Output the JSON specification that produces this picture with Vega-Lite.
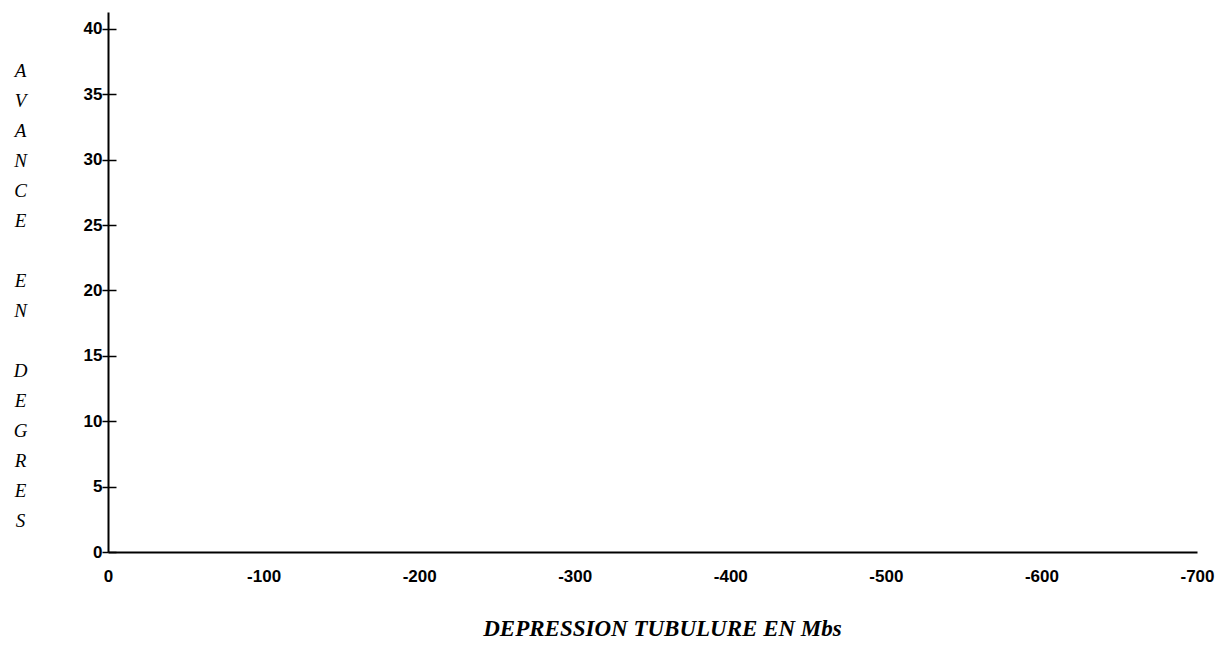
{
  "$schema": "https://vega.github.io/schema/vega-lite/v6.json",
  "width": 1089,
  "height": 540,
  "autosize": {"type": "none"},
  "padding": {"left": 108, "top": 12, "right": 23, "bottom": 93},
  "background": "white",
  "config": {"view": {"stroke": null}},
  "data": {"values": [
    {"depression": 0, "avance": 0},
    {"depression": -700, "avance": 0}
  ]},
  "resolve": {"axis": {"y": "independent"}},
  "layer": [
    {
      "mark": {"type": "point", "opacity": 0},
      "encoding": {
        "x": {
          "field": "depression", "type": "quantitative",
          "scale": {"domain": [0, -700], "nice": false, "zero": false},
          "axis": {
            "values": [0, -100, -200, -300, -400, -500, -600, -700],
            "labelExpr": "'' + datum.value",
            "grid": false,
            "ticks": false,
            "domainColor": "black", "domainWidth": 2,
            "labelFont": "Liberation Sans", "labelFontWeight": "bold", "labelFontSize": 17, "labelColor": "black",
            "labelPadding": 16,
            "labelFlush": false,
            "title": "DEPRESSION TUBULURE EN Mbs",
            "titleFont": "Liberation Serif", "titleFontStyle": "italic", "titleFontWeight": "bold", "titleFontSize": 23, "titleColor": "black",
            "titleX": 554, "titleY": 76, "titleAlign": "center", "titleBaseline": "middle"
          }
        },
        "y": {
          "field": "avance", "type": "quantitative",
          "scale": {"domain": [0, 41.3], "nice": false},
          "axis": {
            "orient": "left",
            "values": [0, 5, 10, 15, 20, 25, 30, 35, 40],
            "grid": false,
            "tickSize": 6, "tickColor": "black", "tickWidth": 1.5,
            "domainColor": "black", "domainWidth": 2,
            "labelFont": "Liberation Sans", "labelFontWeight": "bold", "labelFontSize": 17, "labelColor": "black",
            "labelPadding": 0,
            "labelFlush": false,
            "title": ["A", "V", "A", "N", "C", "E", "\u2800", "E", "N", "\u2800", "D", "E", "G", "R", "E", "S"],
            "titleFont": "Liberation Serif", "titleFontStyle": "italic", "titleFontWeight": "normal", "titleFontSize": 19, "titleColor": "black",
            "titleAngle": 0, "titleLineHeight": 30,
            "titleX": -88, "titleY": 58, "titleAlign": "center", "titleBaseline": "middle"
          }
        }
      }
    },
    {
      "mark": {"type": "point", "opacity": 0},
      "encoding": {
        "x": {"field": "depression", "type": "quantitative"},
        "y": {
          "field": "avance", "type": "quantitative",
          "axis": {
            "orient": "right",
            "offset": -1089,
            "values": [0, 5, 10, 15, 20, 25, 30, 35, 40],
            "grid": false,
            "domain": false,
            "labels": false,
            "title": null,
            "tickSize": 8, "tickColor": "black", "tickWidth": 1.5
          }
        }
      }
    }
  ]
}
